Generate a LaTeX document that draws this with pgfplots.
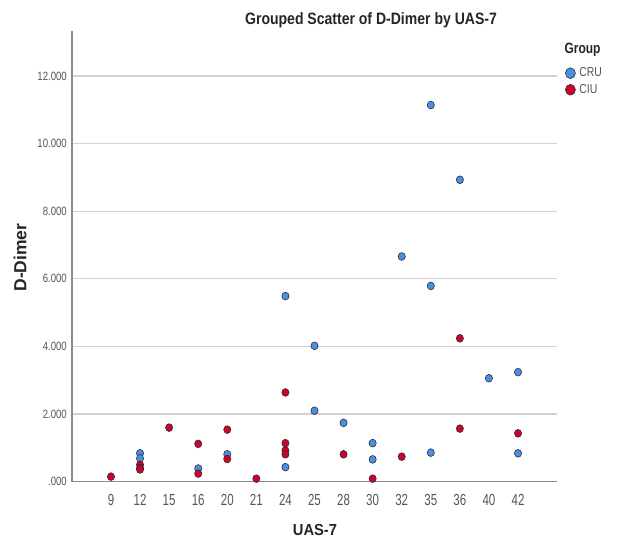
\documentclass[border=0pt]{standalone}
\usepackage{fontspec}
\setmainfont{Liberation Sans}
\newfontfamily\nfa[FakeStretch=0.72]{Liberation Sans}
\newfontfamily\nfb[FakeStretch=0.80]{Liberation Sans}
\newfontfamily\nft[FakeStretch=0.85]{Liberation Sans}
\newfontfamily\nfx[FakeStretch=0.92]{Liberation Sans}
\usepackage{pgfplots}
\pgfplotsset{compat=1.18}
\definecolor{cru}{RGB}{74,144,226}
\definecolor{ciu}{RGB}{208,0,44}
\definecolor{outl}{RGB}{45,45,55}
\definecolor{gridc}{RGB}{210,210,210}
\definecolor{axc}{RGB}{140,140,140}
\definecolor{tickc}{RGB}{85,85,85}
\begin{document}
\begin{tikzpicture}[x=1pt,y=1pt]
\path[use as bounding box] (0,0) rectangle (619,544);
\begin{axis}[
  at={(72pt,62.3pt)}, anchor=south west,
  scale only axis, width=484.7pt, height=450.7pt,
  xmin=-1.34, xmax=15.33, ymin=0, ymax=13.33,
  xtick={0,...,14},
  xticklabels={9,12,15,16,20,21,24,25,28,30,32,35,36,40,42},
  ytick={0,2,...,12},
  yticklabels={.000,2.000,4.000,6.000,8.000,10.000,12.000},
  major tick length=0pt,
  axis x line*=bottom, axis y line*=left,
  axis line style={-, draw=axc, line width=1.2pt},
  ymajorgrids, grid style={draw=gridc, line width=1.3pt},
  xticklabel style={font=\nfa\fontsize{16}{16}\selectfont, text=tickc, anchor=center, yshift=-18.3pt},
  yticklabel style={font=\nfb\fontsize{12}{12}\selectfont, text=tickc, anchor=east, inner sep=0pt, xshift=-5pt},
  legend style={at={(1.018,0.9226)}, anchor=north west, draw=none, fill=none,
    inner sep=0pt, outer sep=0pt, row sep=2pt,
    font=\nfb\fontsize{13}{13}\selectfont, text=tickc,
    legend cell align=left,
    /tikz/every odd column/.append style={column sep=2pt}},
  legend image code/.code={\draw[#1, mark size=5pt] plot coordinates {(7.5pt,0pt)};},
  clip=false,
]
\addplot[only marks, mark=*, mark size=3.6pt,
  mark options={fill=cru, draw=outl, line width=0.6pt, yscale=1.08}]
coordinates {
(1,0.84) (1,0.69) (3,0.39) (4,0.81) (6,5.49) (6,0.43) (7,4.02) (7,2.10)
(8,1.74) (9,1.14) (9,0.66) (10,6.66) (11,11.14) (11,5.79) (11,0.86)
(12,8.93) (13,3.06) (14,3.24) (14,0.84)
};
\addlegendentry{CRU}
\addplot[only marks, mark=*, mark size=3.6pt,
  mark options={fill=ciu, draw=outl, line width=0.6pt, yscale=1.08}]
coordinates {
(0,0.15) (1,0.50) (1,0.40) (1,0.36) (2,1.60) (3,1.12) (3,0.24) (4,1.54) (4,0.67)
(5,0.09) (6,2.64) (6,1.14) (6,0.92) (6,0.81) (8,0.81) (9,0.09) (10,0.74)
(12,4.24) (12,1.57) (14,1.43)
};
\addlegendentry{CIU}
\end{axis}
\node[font=\nft\bfseries\fontsize{16.5}{16.5}\selectfont, text=black!85] at (371,524) {Grouped Scatter of D-Dimer by UAS-7};
\node[font=\nfb\bfseries\fontsize{15}{15}\selectfont, text=black!85] at (582.5,494) {Group};
\node[font=\bfseries\fontsize{17.5}{17.5}\selectfont, text=black!85, rotate=90] at (20,286.5) {D-Dimer};
\node[font=\nfx\bfseries\fontsize{16}{16}\selectfont, text=black!85] at (315,14) {UAS-7};
\end{tikzpicture}
\end{document}
